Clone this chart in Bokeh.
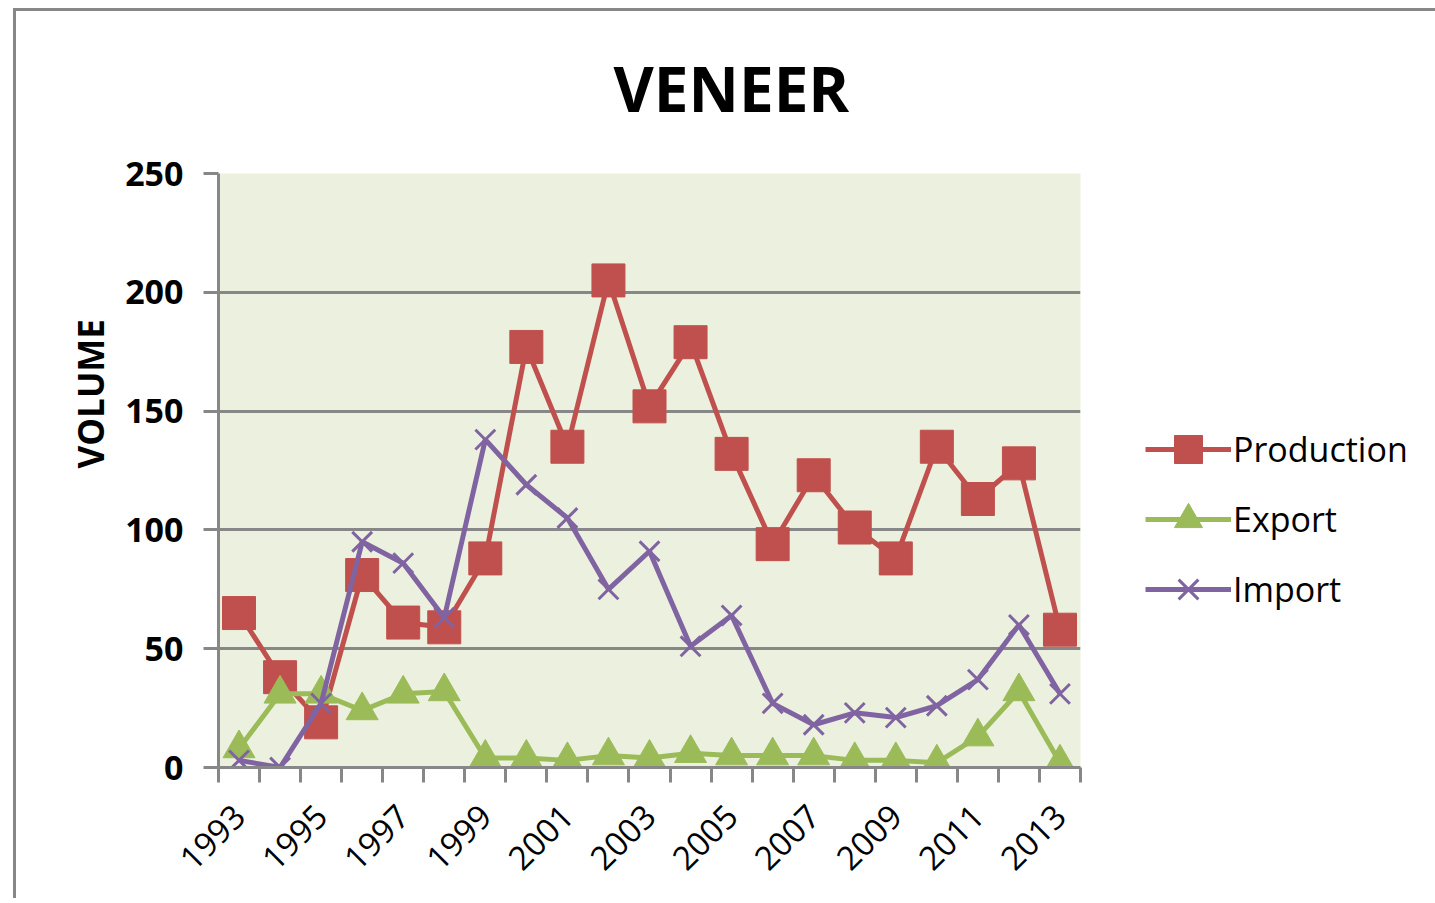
from bokeh.plotting import figure
from bokeh.models import Range1d, FixedTicker, Legend, LegendItem, Title
from bokeh.embed import file_html
from bokeh.resources import INLINE

# ---- data ----
years = list(range(1993, 2014))
production = [65, 38, 19, 81, 61, 59, 88, 177, 135, 205, 152, 179, 132, 94, 123, 101, 88, 135, 113, 128, 58]
export = [8, 31, 31, 24, 31, 32, 4, 4, 3, 5, 4, 6, 5, 5, 5, 3, 3, 2, 13, 32, 2]
imports = [3, 0, 27, 95, 86, 63, 138, 119, 105, 75, 91, 51, 64, 27, 18, 23, 21, 26, 37, 60, 31]
label_years = list(range(1993, 2014, 2))
y_ticks = [0, 50, 100, 150, 200, 250]
series_names = ["Production", "Export", "Import"]

RED = "#C0504D"
GREEN = "#9BBB59"
PURPLE = "#8064A2"
GRAY = "#878787"
FONT = "Open Sans"

W, H = 1430, 898
FL, FT, FW, FH = 218, 173, 862, 594

p = figure(frame_width=FW, frame_height=FH, output_backend="svg", toolbar_location=None,
           x_range=Range1d(1992.5, 2013.5), y_range=Range1d(0, 250),
           min_border_left=FL, min_border_top=FT,
           min_border_right=W - FL - FW, min_border_bottom=H - FT - FH,
           background_fill_color="#EBF1DE", border_fill_color="white",
           border_fill_alpha=0, outline_line_color=None)
# chart-area frame (left and top edges)
p.styles = {"box-shadow": (f"inset 13px 0 0 0 white, inset 0 8px 0 0 white, "
                           f"inset 16px 11px 0 0 {GRAY}")}

# title
p.title.text = "VENEER"
p.title.text_font = FONT
p.title.text_font_size = "62px"
p.title.text_font_style = "bold"
p.title.text_color = "black"
p.title.align = "left"
p.title.offset = 395
p.title.standoff = 87

# y axis label as a side title (positioned like the reference)
ylab = Title(text="VOLUME", align="left", offset=299, standoff=17,
             text_font=FONT, text_font_size="35px", text_font_style="bold",
             text_color="black")
p.add_layout(ylab, "left")

# y axis
p.yaxis.ticker = FixedTicker(ticks=y_ticks)
p.yaxis.major_label_text_font = FONT
p.yaxis.major_label_text_font_size = "34px"
p.yaxis.major_label_text_font_style = "bold"
p.yaxis.major_label_text_color = "black"
p.yaxis.major_label_standoff = 20
p.yaxis.major_tick_out = 15
p.yaxis.major_tick_in = 0
p.yaxis.major_tick_line_color = GRAY
p.yaxis.major_tick_line_width = 3
p.yaxis.minor_tick_line_color = None
p.yaxis.axis_line_color = GRAY
p.yaxis.axis_line_width = 3

# x axis
boundaries = [y - 0.5 for y in years] + [years[-1] + 0.5]
p.xaxis.ticker = FixedTicker(ticks=label_years, minor_ticks=boundaries)
p.xaxis.major_label_orientation = 0.785
p.xaxis.major_label_text_font = FONT
p.xaxis.major_label_text_font_size = "33px"
p.xaxis.major_label_text_color = "black"
p.xaxis.major_label_standoff = 28
p.xaxis.major_tick_out = 15
p.xaxis.major_tick_in = 0
p.xaxis.major_tick_line_color = None
p.xaxis.minor_tick_out = 15
p.xaxis.minor_tick_in = 0
p.xaxis.minor_tick_line_color = GRAY
p.xaxis.minor_tick_line_width = 3
p.xaxis.axis_line_color = GRAY
p.xaxis.axis_line_width = 3

p.xgrid.grid_line_color = None
p.ygrid.grid_line_color = GRAY
p.ygrid.grid_line_width = 3

# series
l1 = p.line(years, production, line_color=RED, line_width=5)
s1 = p.scatter(years, production, marker="square", size=33, fill_color=RED, line_color=RED)
l2 = p.line(years, export, line_color=GREEN, line_width=5)
s2 = p.scatter(years, export, marker="triangle", size=32, fill_color=GREEN, line_color=GREEN)
l3 = p.line(years, imports, line_color=PURPLE, line_width=5)
s3 = p.scatter(years, imports, marker="x", size=28, line_color=PURPLE, line_width=3)

legend = Legend(items=[LegendItem(label=series_names[0], renderers=[l1, s1]),
                       LegendItem(label=series_names[1], renderers=[l2, s2]),
                       LegendItem(label=series_names[2], renderers=[l3, s3])],
                location=(65, 143), orientation="vertical",
                glyph_width=86, glyph_height=70, spacing=0, padding=0, margin=0,
                label_standoff=2, label_height=70,
                label_text_font=FONT, label_text_font_size="34px",
                label_text_color="black",
                background_fill_alpha=0, border_line_color=None)
p.add_layout(legend, "right")

open("out.html", "w").write(file_html(p, INLINE))
